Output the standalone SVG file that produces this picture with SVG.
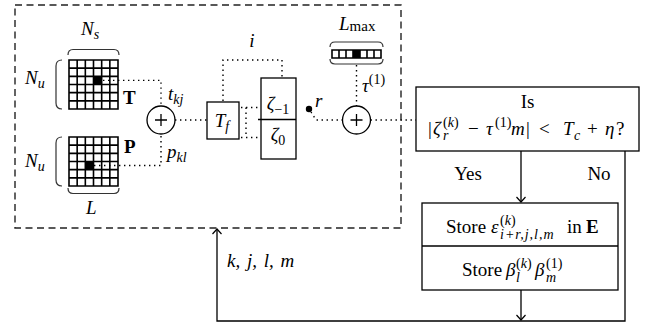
<svg xmlns="http://www.w3.org/2000/svg" xmlns:xlink="http://www.w3.org/1999/xlink" width="645" height="327" viewBox="0 0 645 327">
  <style>
    .ln { fill: none; stroke: #000; stroke-width: 1.3; }
    .grid { fill: none; stroke: #000; stroke-width: 1.6; }
    .brace { fill: none; stroke: #333; stroke-width: 1.2; }
    .dot { fill: none; stroke: #000; stroke-width: 1.4; stroke-dasharray: 1.4 3.6; }
    .dash { fill: none; stroke: #222; stroke-width: 1.4; stroke-dasharray: 7 4.5; }
    .t { font-family: "Liberation Serif", "Times New Roman", serif; font-size: 18px; fill: #000; }
    .m { font-size: 19px; }
    .i { font-style: italic; }
    .u { font-style: normal; }
    .s { font-size: 14px; }
    .b { font-weight: bold; }
  </style>
  <defs>
    <marker id="arr" markerWidth="10" markerHeight="10" refX="9" refY="5" orient="auto" markerUnits="userSpaceOnUse">
      <path d="M4,0.5 L9,5 L4,9.5" fill="none" stroke="#000" stroke-width="1.2"/>
    </marker>
    <!-- 6x6 matrix grid, 49 px square -->
    <path id="grid6" class="grid" d="M0 0 H49 V49 H0 Z M0 8.17 H49 M0 16.33 H49 M0 24.5 H49 M0 32.67 H49 M0 40.83 H49 M8.17 0 V49 M16.33 0 V49 M24.5 0 V49 M32.67 0 V49 M40.83 0 V49"/>
  </defs>

  <!-- dashed processing region -->
  <rect class="dash" x="15" y="5" width="386" height="223"/>

  <!-- template matrix T -->
  <g id="matrix-T">
    <use xlink:href="#grid6" x="69" y="60"/>
    <rect x="93.5" y="76.33" width="8.17" height="8.17" fill="#000"/>
    <path class="brace" d="M68 55 Q68 49.5 73 49.5 H114 Q119 49.5 119 55"/>
    <path class="brace" d="M62 60 Q56 60 56 66 V103 Q56 109 62 109"/>
    <text class="t m i" x="81" y="35">N<tspan class="s" dy="4">s</tspan></text>
    <text class="t m i" x="25" y="84">N<tspan class="s" dy="4">u</tspan></text>
    <text class="t m b" x="123" y="104">T</text>
  </g>

  <!-- pattern matrix P -->
  <g id="matrix-P">
    <use xlink:href="#grid6" x="69" y="137"/>
    <rect x="85.33" y="161.5" width="8.17" height="8.17" fill="#000"/>
    <path class="brace" d="M68 188 Q68 193.5 73 193.5 H114 Q119 193.5 119 188"/>
    <path class="brace" d="M62 137 Q56 137 56 143 V180 Q56 186 62 186"/>
    <text class="t m i" x="25" y="167">N<tspan class="s" dy="4">u</tspan></text>
    <text class="t m b" x="124" y="153">P</text>
    <text class="t m i" x="86" y="214">L</text>
  </g>

  <!-- first summation -->
  <g id="sum1">
    <circle class="ln" cx="161" cy="120" r="14"/>
    <path class="ln" d="M155 120 H167 M161 114 V126"/>
    <text class="t m i" x="168" y="100">t<tspan class="s" dy="4">kj</tspan></text>
    <text class="t m i" x="167" y="158">p<tspan class="s" dy="4">kl</tspan></text>
  </g>

  <!-- transform block -->
  <g id="Tf">
    <rect class="ln" x="207" y="102" width="32" height="37" fill="#fff"/>
    <text class="t m i" x="222" y="127" text-anchor="middle">T<tspan class="s" dy="4">f</tspan></text>
  </g>

  <!-- delay register -->
  <g id="zeta">
    <rect class="ln" x="261" y="78" width="35" height="81" fill="#fff"/>
    <path class="ln" d="M258 119.5 H296"/>
    <text class="t m i" x="278" y="110" text-anchor="middle">ζ<tspan class="s u" dy="4">−1</tspan></text>
    <text class="t m i" x="278" y="141" text-anchor="middle">ζ<tspan class="s u" dy="4">0</tspan></text>
    <text class="t m i" x="252" y="47" text-anchor="middle">i</text>
  </g>

  <!-- selected output r -->
  <g id="r-point">
    <circle cx="309" cy="109" r="3.2" fill="#000"/>
    <text class="t m i" x="315" y="107">r</text>
  </g>

  <!-- lag vector L_max -->
  <g id="Lmax">
    <path class="grid" d="M332 50 H381 V58 H332 Z M339 50 V58 M346 50 V58 M353 50 V58 M360 50 V58 M367 50 V58 M374 50 V58"/>
    <rect x="353" y="50" width="7" height="8" fill="#000"/>
    <path class="brace" d="M330 47 Q330 42 335 42 H378 Q383 42 383 47"/>
    <path class="brace" d="M330 59 Q330 64 335 64 H378 Q383 64 383 59"/>
    <text class="t m i" x="339" y="30">L<tspan class="u" style="font-size:15px" dy="1">max</tspan></text>
  </g>

  <!-- second summation -->
  <g id="sum2">
    <circle class="ln" cx="356.5" cy="120" r="14"/>
    <path class="ln" d="M350.5 120 H362.5 M356.5 114 V126"/>
    <text class="t m i" x="362" y="92">τ<tspan class="s u" dy="-8">(1)</tspan></text>
  </g>

  <!-- decision -->
  <g id="decision">
    <rect class="ln" x="416" y="87" width="223" height="64" fill="#fff"/>
    <text class="t m" x="527.5" y="108" text-anchor="middle">Is</text>
    <text class="t m" y="135"><tspan x="428">|</tspan><tspan class="i" x="433">ζ</tspan><tspan class="s" x="443" y="127">(<tspan class="i">k</tspan>)</tspan><tspan class="s i" x="443" y="140">r</tspan><tspan x="468" y="135">−</tspan><tspan class="i" x="486">τ</tspan><tspan class="s" x="495" y="127">(1)</tspan><tspan class="i" x="511" y="135">m</tspan><tspan x="526">|</tspan><tspan x="539">&lt;</tspan><tspan class="i" x="563">T</tspan><tspan class="s i" x="574" y="140">c</tspan><tspan x="587" y="135">+</tspan><tspan class="i" x="605">η</tspan><tspan x="616">?</tspan></text>
    <text class="t m" x="468" y="180" text-anchor="middle">Yes</text>
    <text class="t m" x="599" y="180" text-anchor="middle">No</text>
  </g>

  <!-- storage -->
  <g id="store">
    <rect class="ln" x="422" y="203" width="196" height="87" fill="#fff"/>
    <path class="ln" d="M422 246 H618"/>
    <text class="t m" y="233"><tspan x="446">Store</tspan><tspan class="i" x="491">ε</tspan><tspan class="s" x="500" y="225">(<tspan class="i">k</tspan>)</tspan><tspan class="s i" x="500" y="239" style="letter-spacing:1px">i+r,j,l,m</tspan><tspan x="567" y="233">in</tspan><tspan class="b" x="586">E</tspan></text>
    <text class="t m" y="276"><tspan x="462">Store</tspan><tspan class="i" x="506">β</tspan><tspan class="s" x="516" y="268">(<tspan class="i">k</tspan>)</tspan><tspan class="s i" x="516" y="282">l</tspan><tspan class="i" x="535" y="276">β</tspan><tspan class="s" x="546" y="268">(1)</tspan><tspan class="s i" x="546" y="282">m</tspan></text>
  </g>

  <g id="loop-label">
    <text class="t m i" x="227" y="267" style="word-spacing:2px">k, j, l, m</text>
  </g>

  <!-- connectors -->
  <g id="connectors">
    <path class="dot" d="M103 80.4 H161 V106"/>
    <path class="dot" d="M94 165.5 H161 V134"/>
    <path class="dot" d="M175 120 H207"/>
    <path class="dot" d="M241 107.5 H260 M246 107.5 V137.5 M241 137.5 H260"/>
    <path class="dot" d="M223 101 V60 H282 V78"/>
    <path class="dot" d="M311 112 L316 120 H342"/>
    <path class="dot" d="M356.5 65 V106"/>
    <path class="dot" d="M370.5 120 H416"/>
    <path class="ln" d="M521 151 V202" marker-end="url(#arr)"/>
    <path class="ln" d="M521 290 V320" marker-end="url(#arr)"/>
    <path class="ln" d="M625 151 V321 H217 V229" marker-end="url(#arr)"/>
  </g>
</svg>
